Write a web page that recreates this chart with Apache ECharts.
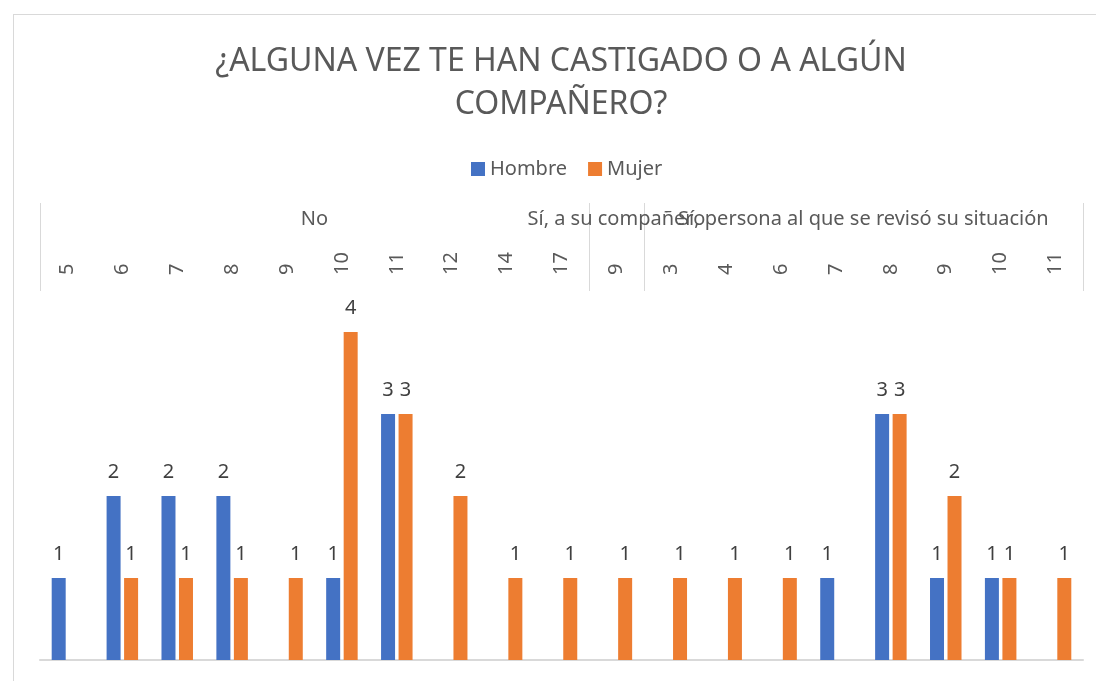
<!DOCTYPE html>
<html>
<head>
<meta charset="utf-8">
<script src="https://cdn.jsdelivr.net/npm/echarts@6/dist/echarts.min.js"></script>
<style>
  html, body { margin: 0; padding: 0; background: #fff; overflow: hidden; }
  #frame { position: absolute; left: 13px; top: 14px; width: 1200px; height: 800px; border: 1px solid #d9d9d9; }
  #chart { position: absolute; left: 0; top: 0; width: 1122px; height: 681px; }
</style>
</head>
<body>
<div id="frame"></div>
<div id="chart"></div>
<script>
// ticks of the inner level (edad)
var categories = ['5', '6', '7', '8', '9', '10', '11', '12', '14', '17', '9', '3', '4', '6', '7', '8', '9', '10', '11'];
// outer level groups and how many ticks each one spans
var groupNames = ['No', 'Sí, a su compañero', 'Sí, persona al que se revisó su situación'];
var groupSizes = [10, 1, 8];
var hombre = [1, 2, 2, 2, null, 1, 3, null, null, null, null, null, null, null, 1, 3, 1, 1, null];
var mujer = [null, 1, 1, 1, 1, 4, 3, 2, 1, 1, 1, 1, 1, 1, null, 3, 2, 1, 1];

// boundaries and centers of groups on a 0..n value scale
var bounds = [0];
var centers = [];
groupSizes.forEach(function (s, i) {
  centers.push(bounds[i] + s / 2);
  bounds.push(bounds[i] + s);
});

var txt = '#595959';
var font = 'Noto Sans';

var xAxes = [
  {
    type: 'category',
    position: 'top',
    data: categories,
    axisLine: { show: false },
    axisTick: { show: false },
    axisLabel: { rotate: 90, margin: 16, fontFamily: font, fontSize: 20, color: txt, interval: 0 }
  },
  {
    type: 'category',
    position: 'bottom',
    data: categories,
    axisLine: { show: true, lineStyle: { color: '#d9d9d9', width: 2 } },
    axisTick: { show: false },
    axisLabel: { show: false }
  }
];
// one top value axis per group label, so overlapping labels are all kept (like Excel)
groupNames.forEach(function (name, i) {
  xAxes.push({
    type: 'value',
    position: 'top',
    min: 0,
    max: categories.length,
    axisLine: { show: false },
    splitLine: { show: false },
    axisTick: i === 0
      ? { show: true, customValues: bounds, length: 88, lineStyle: { color: '#d9d9d9', width: 1 } }
      : { show: false },
    axisLabel: {
      customValues: [centers[i]],
      margin: 62,
      fontFamily: font,
      fontSize: 20,
      color: txt,
      formatter: function () { return name; }
    }
  });
});

var chart = echarts.init(document.getElementById('chart'));
chart.setOption({
  animation: false,
  title: {
    text: '¿ALGUNA VEZ TE HAN CASTIGADO O A ALGÚN\nCOMPAÑERO?',
    left: 'center',
    top: 35,
    textStyle: { fontFamily: font, fontWeight: 'normal', fontSize: 32, lineHeight: 43, color: txt }
  },
  legend: {
    top: 154,
    left: 466,
    icon: 'rect',
    itemWidth: 14,
    itemHeight: 14,
    itemGap: 21,
    textStyle: { fontFamily: font, fontSize: 20, color: txt },
    data: ['Hombre', 'Mujer']
  },
  grid: { left: 40, right: 39, top: 291, bottom: 21 },
  xAxis: xAxes,
  yAxis: { type: 'value', min: 0, max: 4.5, show: false, splitLine: { show: false } },
  series: [
    {
      name: 'Hombre',
      type: 'bar',
      xAxisIndex: 0,
      data: hombre,
      barWidth: 14,
      barGap: '25%',
      itemStyle: { color: '#4472c4' },
      label: { show: true, position: 'top', distance: 14, fontFamily: font, fontSize: 20, color: '#404040' }
    },
    {
      name: 'Mujer',
      type: 'bar',
      xAxisIndex: 0,
      data: mujer,
      barWidth: 14,
      barGap: '25%',
      itemStyle: { color: '#ed7d31' },
      label: { show: true, position: 'top', distance: 14, fontFamily: font, fontSize: 20, color: '#404040' }
    }
  ]
});
</script>
</body>
</html>
